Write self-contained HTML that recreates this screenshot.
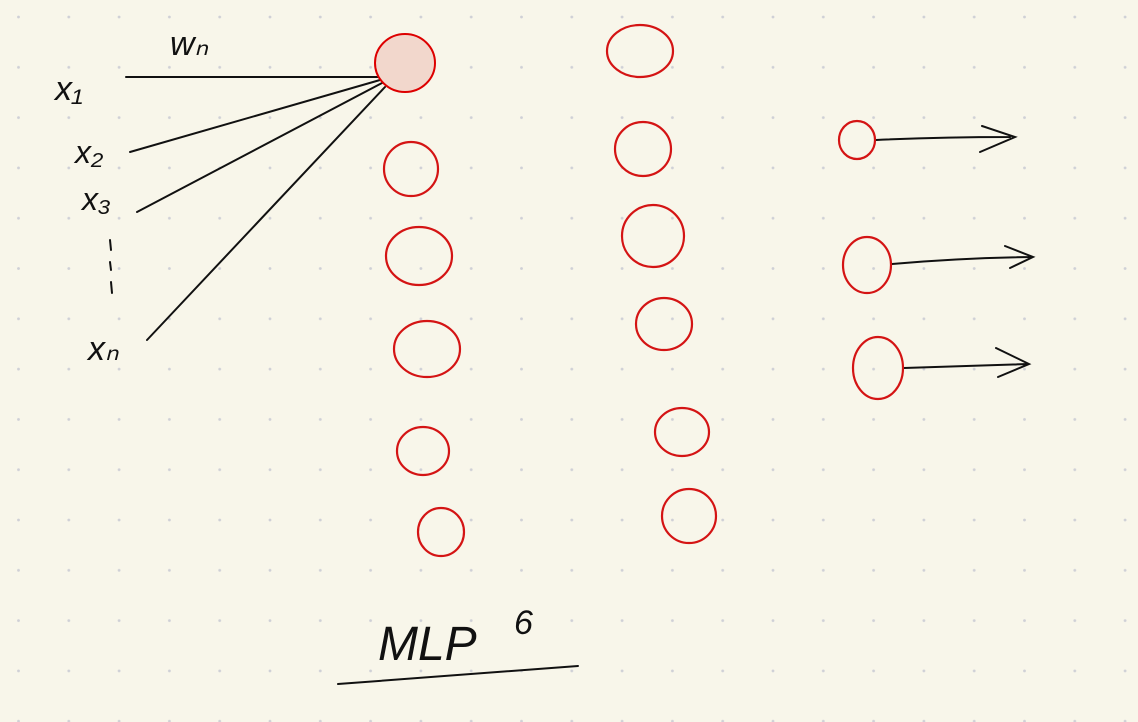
<!DOCTYPE html>
<html><head><meta charset="utf-8"><style>
html,body{margin:0;padding:0;background:#f8f6ea;}
svg{display:block}
text{font-family:"Liberation Sans",sans-serif;fill:#111;font-style:italic}
</style></head><body>
<svg width="1138" height="722" viewBox="0 0 1138 722" xmlns="http://www.w3.org/2000/svg">
<defs>
<pattern id="d" x="18.5" y="17" width="50.3" height="50.3" patternUnits="userSpaceOnUse">
<circle cx="0" cy="0" r="1.4" fill="#cfd0d6"/><circle cx="50.3" cy="0" r="1.4" fill="#cfd0d6"/><circle cx="0" cy="50.3" r="1.4" fill="#cfd0d6"/><circle cx="50.3" cy="50.3" r="1.4" fill="#cfd0d6"/>
</pattern>
</defs>
<rect width="1138" height="722" fill="#f8f6ea"/>
<rect width="1138" height="722" fill="url(#d)"/>
<g stroke="#111" stroke-width="2" fill="none" stroke-linecap="round">
<line x1="126" y1="77" x2="378" y2="77"/>
<line x1="130" y1="152" x2="380" y2="80"/>
<line x1="137" y1="212" x2="382" y2="83"/>
<line x1="147" y1="340" x2="385" y2="87"/>
<line x1="110" y1="240" x2="111" y2="250"/>
<line x1="110" y1="262" x2="111" y2="270"/>
<line x1="111" y1="282" x2="112" y2="293"/>
<path d="M338 684 Q450 676 578 666"/>
<path d="M876 140 Q940 137 1010 137 M982 126 L1015 137 L980 152"/>
<path d="M892 264 Q960 258 1032 257 M1005 246 L1033 257 L1010 268"/>
<path d="M904 368 Q970 366 1028 364 M996 348 L1029 364 L998 377"/>
</g>
<ellipse cx="405" cy="63" rx="30" ry="29" fill="#f2d7cc" stroke="#d00" stroke-width="2"/>
<g fill="none" stroke="#d41414" stroke-width="2.2">
<ellipse cx="411" cy="169" rx="27" ry="27"/>
<ellipse cx="419" cy="256" rx="33" ry="29"/>
<ellipse cx="427" cy="349" rx="33" ry="28"/>
<ellipse cx="423" cy="451" rx="26" ry="24"/>
<ellipse cx="441" cy="532" rx="23" ry="24"/>
<ellipse cx="640" cy="51" rx="33" ry="26"/>
<ellipse cx="643" cy="149" rx="28" ry="27"/>
<ellipse cx="653" cy="236" rx="31" ry="31"/>
<ellipse cx="664" cy="324" rx="28" ry="26"/>
<ellipse cx="682" cy="432" rx="27" ry="24"/>
<ellipse cx="689" cy="516" rx="27" ry="27"/>
<ellipse cx="857" cy="140" rx="18" ry="19"/>
<ellipse cx="867" cy="265" rx="24" ry="28"/>
<ellipse cx="878" cy="368" rx="25" ry="31"/>
</g>
<text x="170" y="55" font-size="34">wₙ</text>
<text x="55" y="100" font-size="34">x₁</text>
<text x="75" y="163" font-size="32">x₂</text>
<text x="82" y="210" font-size="32">x₃</text>
<text x="88" y="360" font-size="34">xₙ</text>
<text x="378" y="660" font-size="48" font-style="normal">MLP</text>
<text x="514" y="634" font-size="34" font-style="normal">6</text>
</svg>
</body></html>
